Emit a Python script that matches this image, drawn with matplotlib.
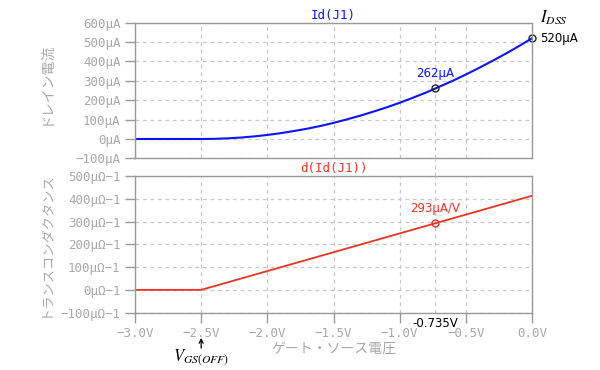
import matplotlib
matplotlib.use("Agg")
import matplotlib.pyplot as plt
from matplotlib.lines import Line2D

# ---- data ----
vgs = [-3.0, -2.9, -2.8, -2.7, -2.6, -2.5, -2.4, -2.3, -2.2, -2.1, -2.0,
       -1.9, -1.8, -1.7, -1.6, -1.5, -1.4, -1.3, -1.2, -1.1, -1.0,
       -0.9, -0.8, -0.7, -0.6, -0.5, -0.4, -0.3, -0.2, -0.1, 0.0]
id_uA = [0, 0, 0, 0, 0, 0, 0.8, 3.3, 7.5, 13.3, 20.8,
         30, 41, 53, 67, 83, 101, 120, 141, 163, 187,
         213, 240, 270, 300, 333, 367, 403, 440, 479, 520]
gm_v = [-3.0, -2.5, 0.0]
gm_uS = [0, 0, 413]

mark_v = -0.735
mark_id = 262
mark_gm = 293
idss = 520
vgs_off = -2.5

top_yticks = [-100, 0, 100, 200, 300, 400, 500, 600]
top_ylabels = ["−100µA", "0µA", "100µA", "200µA", "300µA", "400µA", "500µA", "600µA"]
bot_yticks = [-100, 0, 100, 200, 300, 400, 500]
bot_ylabels = ["−100µΩ−1", "0µΩ−1", "100µΩ−1", "200µΩ−1", "300µΩ−1", "400µΩ−1", "500µΩ−1"]
xticks = [-3.0, -2.5, -2.0, -1.5, -1.0, -0.5, 0.0]
xlabels = ["−3.0V", "−2.5V", "−2.0V", "−1.5V", "−1.0V", "−0.5V", "0.0V"]

# ---- style ----
plt.rcParams["mathtext.fontset"] = "stix"
MONO = "DejaVu Sans Mono"
JP = ["Noto Sans CJK JP", "DejaVu Sans"]
GRAY = "#a8a8a8"
SPINE = "#999999"
BLUE = "#0a14ff"
RED = "#ee3322"

fig = plt.figure(figsize=(6.0, 3.7), dpi=100)
ax1 = fig.add_axes([0.225, 0.572, 0.6617, 0.3665])
ax2 = fig.add_axes([0.225, 0.155, 0.6617, 0.3695])

for ax in (ax1, ax2):
    ax.set_xlim(-3.0, 0.0)
    ax.set_xticks(xticks)
    ax.grid(True, linestyle=(0, (3, 3)), color="#c8c8c8", linewidth=0.9)
    for s in ax.spines.values():
        s.set_color(SPINE)
        s.set_linewidth(1.0)
    ax.tick_params(colors=SPINE, labelcolor=GRAY, length=7, width=1.0, direction="out")
    ax.axvline(mark_v, color="#c8c8c8", linestyle=(0, (3, 3)), linewidth=0.9)

# top plot
ax1.plot(vgs, id_uA, color=BLUE, linewidth=1.5)
ax1.set_ylim(-100, 600)
ax1.set_yticks(top_yticks)
ax1.set_yticklabels(top_ylabels, family=MONO, fontsize=9)
ax1.tick_params(axis="x", length=0, labelbottom=False)
ax1.set_title("Id(J1)", family=MONO, fontsize=9, color=BLUE, pad=3)
ax1.set_ylabel("ドレイン電流", family=JP, fontsize=10, color=GRAY)
ax1.yaxis.set_label_coords(-0.207, 0.55)
ax1.plot([0.0], [idss], marker="o", ms=5, mfc="none", mec="#222222", mew=1.0, clip_on=False)
ax1.plot([mark_v], [mark_id], marker="o", ms=5, mfc="none", mec="#222222", mew=1.0)
ax1.annotate(f"{mark_id}µA", (mark_v, mark_id), xytext=(0, 6), textcoords="offset points",
             ha="center", va="bottom", color=BLUE, fontsize=8.5, family="DejaVu Sans")
ax1.annotate(f"{idss}µA", (0.0, idss), xytext=(6, 0), textcoords="offset points",
             ha="left", va="center", color="black", fontsize=8.5, family="DejaVu Sans",
             annotation_clip=False)
ax1.annotate(r"$I_{DSS}$", (0.0, idss), xytext=(6, 8), textcoords="offset points",
             ha="left", va="bottom", color="black", fontsize=12, annotation_clip=False)

# bottom plot
ax2.plot(gm_v, gm_uS, color=RED, linewidth=1.3)
ax2.set_ylim(-100, 500)
ax2.set_yticks(bot_yticks)
ax2.set_yticklabels(bot_ylabels, family=MONO, fontsize=9)
ax2.set_xticklabels(xlabels, family=MONO, fontsize=9)
ax2.set_title("d(Id(J1))", family=MONO, fontsize=9, color=RED, pad=3)
ax2.set_ylabel("トランスコンダクタンス", family=JP, fontsize=9.5, color=GRAY)
ax2.yaxis.set_label_coords(-0.207, 0.5)
ax2.set_xlabel("ゲート・ソース電圧", family=JP, fontsize=10, color=GRAY, labelpad=1)
ax2.plot([mark_v], [mark_gm], marker="o", ms=5, mfc="none", mec=RED, mew=1.0)
ax2.annotate(f"{mark_gm}µA/V", (mark_v, mark_gm), xytext=(0, 6), textcoords="offset points",
             ha="center", va="bottom", color=RED, fontsize=8.5, family="DejaVu Sans")
ax2.annotate(f"{mark_v}V", (mark_v, -100), xytext=(0, -3), textcoords="offset points",
             ha="center", va="top", color="black", fontsize=8.5, family="DejaVu Sans",
             annotation_clip=False)
# small up-arrow under the -2.5V tick
xt = ax2.get_xaxis_transform()
ax2.annotate("", xy=(vgs_off, -0.185), xycoords=xt, xytext=(vgs_off, -0.26), textcoords=xt,
             arrowprops=dict(arrowstyle="->", color="black", lw=0.9,
                             shrinkA=0, shrinkB=0, mutation_scale=7),
             annotation_clip=False)
ax2.annotate(r"$V_{GS(OFF)}$", (vgs_off, -100), xytext=(0, -45), textcoords="offset pixels",
             ha="center", va="center", color="black", fontsize=12, annotation_clip=False)

# dashed marker line through the gap between the two plots
x_fig = 0.225 + 0.6617 * (mark_v + 3.0) / 3.0
fig.add_artist(Line2D([x_fig, x_fig], [0.5245, 0.572], color="#c8c8c8",
                      linestyle=(0, (3, 3)), linewidth=0.9, transform=fig.transFigure))

fig.savefig("out.png", dpi=100)
